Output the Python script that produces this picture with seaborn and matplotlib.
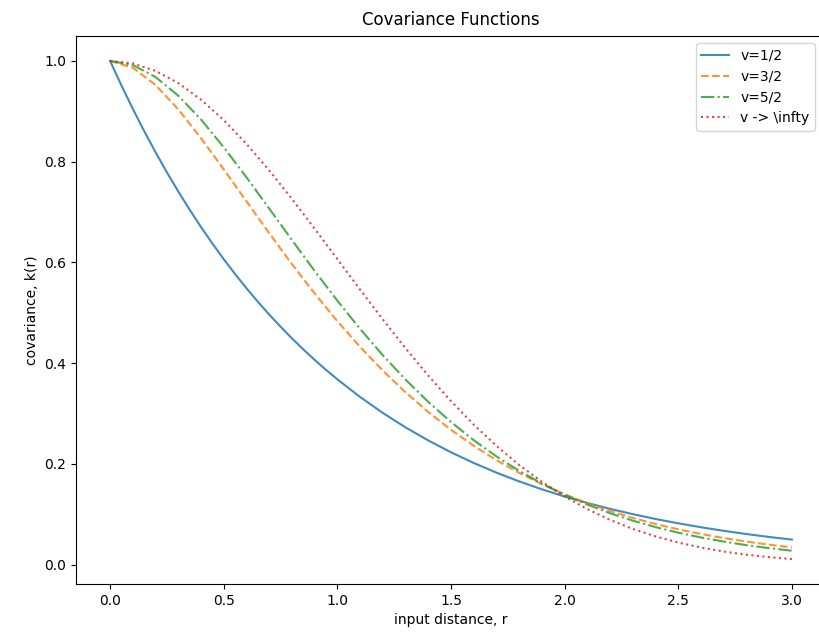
import matplotlib
matplotlib.use("Agg")
import matplotlib.pyplot as plt
import seaborn as sns
import pandas as pd

r = [0.0, 0.1, 0.2, 0.3, 0.4, 0.5, 0.6, 0.7, 0.8, 0.9, 1.0,
     1.1, 1.2, 1.3, 1.4, 1.5, 1.6, 1.7, 1.8, 1.9, 2.0,
     2.1, 2.2, 2.3, 2.4, 2.5, 2.6, 2.7, 2.8, 2.9, 3.0]

# v=1/2 read on a finer grid near the origin where it bends most
r_half = [0.0, 0.05, 0.1, 0.15, 0.2, 0.25, 0.3, 0.35, 0.4, 0.45, 0.5,
          0.55, 0.6, 0.65, 0.7, 0.75, 0.8, 0.85, 0.9, 0.95, 1.0,
          1.1, 1.2, 1.3, 1.4, 1.5, 1.6, 1.7, 1.8, 1.9, 2.0,
          2.1, 2.2, 2.3, 2.4, 2.5, 2.6, 2.7, 2.8, 2.9, 3.0]
k_half = [1.0000, 0.9512, 0.9048, 0.8607, 0.8187, 0.7788, 0.7408, 0.7047, 0.6703, 0.6376, 0.6065,
          0.5769, 0.5488, 0.5220, 0.4966, 0.4724, 0.4493, 0.4274, 0.4066, 0.3867, 0.3679,
          0.3329, 0.3012, 0.2725, 0.2466, 0.2231, 0.2019, 0.1827, 0.1653, 0.1496, 0.1353,
          0.1225, 0.1108, 0.1003, 0.0907, 0.0821, 0.0743, 0.0672, 0.0608, 0.0550, 0.0498]

k_three_half = [1.0000, 0.9866, 0.9522, 0.9038, 0.8467, 0.7849, 0.7213, 0.6581, 0.5968, 0.5383, 0.4834,
                0.4323, 0.3852, 0.3421, 0.3031, 0.2678, 0.2360, 0.2076, 0.1823, 0.1597, 0.1397,
                0.1221, 0.1065, 0.0928, 0.0807, 0.0702, 0.0609, 0.0529, 0.0458, 0.0397, 0.0343]

k_five_half = [1.0000, 0.9918, 0.9680, 0.9310, 0.8836, 0.8287, 0.7690, 0.7070, 0.6445, 0.5831, 0.5240,
               0.4680, 0.4157, 0.3674, 0.3232, 0.2832, 0.2471, 0.2149, 0.1863, 0.1610, 0.1387,
               0.1192, 0.1021, 0.0874, 0.0746, 0.0635, 0.0540, 0.0458, 0.0388, 0.0328, 0.0277]

k_inf = [1.0000, 0.9950, 0.9802, 0.9560, 0.9231, 0.8825, 0.8353, 0.7827, 0.7262, 0.6670, 0.6065,
         0.5461, 0.4868, 0.4296, 0.3753, 0.3247, 0.2780, 0.2358, 0.1979, 0.1645, 0.1353,
         0.1103, 0.0889, 0.0710, 0.0561, 0.0439, 0.0341, 0.0261, 0.0198, 0.0149, 0.0111]

labels = ["v=1/2", "v=3/2", "v=5/2", "v -> \\infty"]
xs = [r_half, r, r, r]
series = [k_half, k_three_half, k_five_half, k_inf]
styles = ["-", "--", "-.", ":"]
colors = ["#1f77b4", "#ff7f0e", "#2ca02c", "#d62728"]

fig = plt.figure(figsize=(8.2, 6.33), dpi=100)
ax = fig.add_axes([76 / 820, (633 - 584) / 633, (826 - 76) / 820, (584 - 36) / 633])

for lab, x, vals, ls, c in zip(labels, xs, series, styles, colors):
    df = pd.DataFrame({"r": x, "k": vals})
    sns.lineplot(data=df, x="r", y="k", ax=ax, label=lab, linestyle=ls,
                 color=c, alpha=0.85, linewidth=1.5)

ax.set_title("Covariance Functions", fontsize=12, pad=8)
ax.set_xlabel("input distance, r", fontsize=10)
ax.set_ylabel("covariance, k(r)", fontsize=10)
ax.legend(loc="upper right", bbox_to_anchor=(1 - 4 / 750, 1))

fig.savefig("out.png", dpi=100)
